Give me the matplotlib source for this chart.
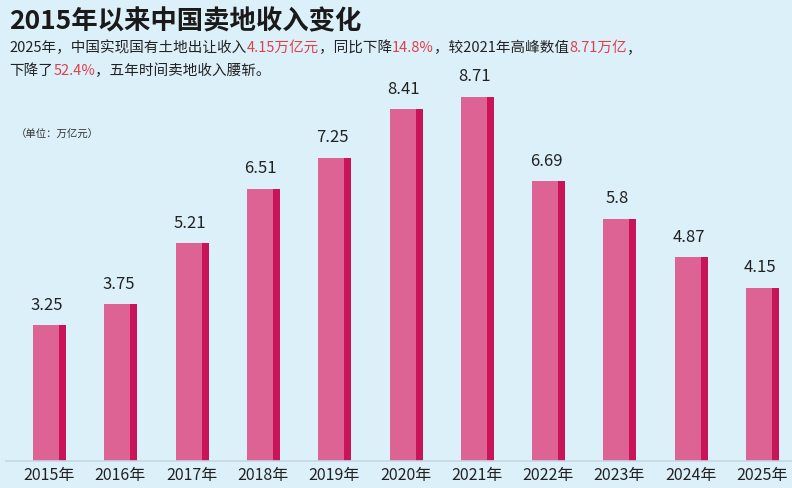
import matplotlib.pyplot as plt
from matplotlib.patches import Rectangle

plt.rcParams['font.family'] = ['Noto Sans CJK SC', 'DejaVu Sans']

years = ['2015年', '2016年', '2017年', '2018年', '2019年', '2020年',
         '2021年', '2022年', '2023年', '2024年', '2025年']
values = [3.25, 3.75, 5.21, 6.51, 7.25, 8.41, 8.71, 6.69, 5.8, 4.87, 4.15]
labels = ['3.25', '3.75', '5.21', '6.51', '7.25', '8.41', '8.71', '6.69', '5.8', '4.87', '4.15']

bg = '#dcf0f9'
fig = plt.figure(figsize=(7.92, 4.89), dpi=100, facecolor=bg)
ax = fig.add_axes([0, 0, 1, 1], facecolor=bg)

step = 71.3   # px per category
unit = 41.8   # px per 万亿
ax.set_xlim(-49 / step, (792 - 49) / step)
ax.set_ylim(-27 / unit, (489 - 27) / unit)
ax.axis('off')

front_w = 26 / step
side_w = 7 / step
for i, v in enumerate(values):
    left = i - 16 / step
    ax.add_patch(Rectangle((left, 0), front_w, v, color='#dc6393', lw=0))
    ax.add_patch(Rectangle((left + front_w, 0), side_w, v, color='#c9145a', lw=0))
    ax.text(i - 2 / step, v + 0.3, labels[i], ha='center', va='bottom',
            fontsize=12, color='#222222')
    ax.text(i, -0.33, years[i], ha='center', va='center', fontsize=11.5, color='#222222')

ax.plot([-0.6, 10.4], [0, 0], color='#c4d8e2', lw=1.2)

fig.text(0.012, 0.955, '2015年以来中国卖地收入变化', fontsize=19, fontweight='bold',
         color='#1a1a1a', va='center')

def rich_line(y, parts):
    x = 0.012
    r = fig.canvas.get_renderer()
    for s, c in parts:
        t = fig.text(x, y, s, fontsize=10.5, color=c, va='center')
        bb = t.get_window_extent(renderer=r)
        x += bb.width / fig.bbox.width

red = '#e0404a'
dark = '#222222'
rich_line(0.902, [('2025年，中国实现国有土地出让收入', dark), ('4.15万亿元', red),
                  ('，同比下降', dark), ('14.8%', red), ('，较2021年高峰数值', dark),
                  ('8.71万亿', red), ('，', dark)])
rich_line(0.855, [('下降了', dark), ('52.4%', red), ('，五年时间卖地收入腰斩。', dark)])

fig.text(0.02, 0.725, '（单位：万亿元）', fontsize=7.5, color='#333333', va='center')

fig.savefig('out.png', dpi=100, facecolor=bg)
